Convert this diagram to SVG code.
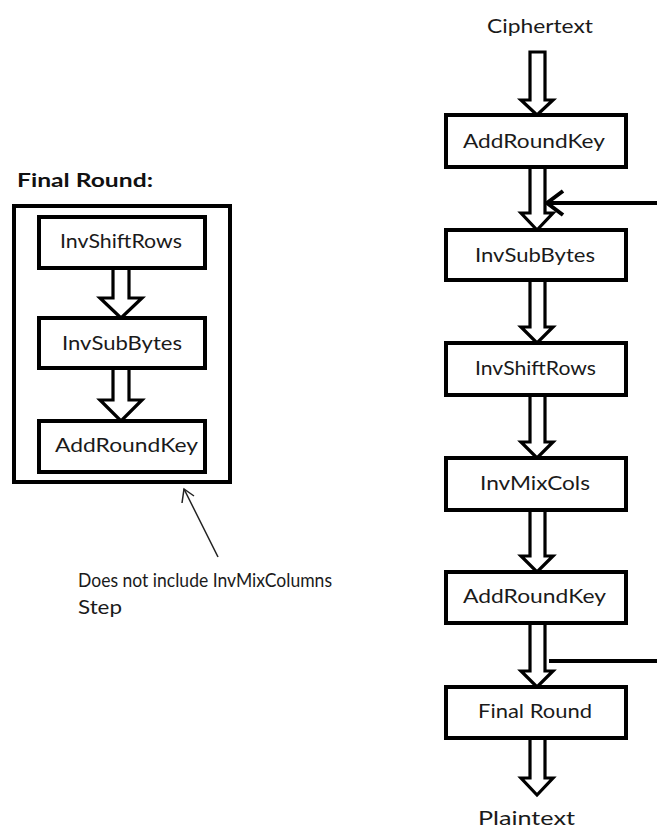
<svg xmlns="http://www.w3.org/2000/svg" width="657" height="834" viewBox="0 0 657 834">
  <style>
    .box { fill: #fff; stroke: #000; stroke-width: 4; }
    .frame { fill: none; stroke: #000; stroke-width: 4; }
    .blk { fill: #fff; stroke: #000; stroke-width: 3.2; stroke-linejoin: miter; }
    .bar { fill: none; stroke: #000; stroke-width: 4; }
    .thin { fill: none; stroke: #222; stroke-width: 1.5; }
    .lbl { font-family: Lato, "Liberation Sans", sans-serif; font-size: 19px; fill: #1a1a1a; }
    .head { font-family: Lato, "Liberation Sans", sans-serif; font-size: 18px; font-weight: bold; fill: #111; }
  </style>
  <rect width="657" height="834" fill="#fff"/>

  <!-- connectors: hollow block arrows and key lines -->
  <g id="connectors">
    <!-- main column -->
    <path class="blk" d="M530,52 H545 V100 H553 L537,115 L521,100 H530 Z"/>
    <path class="blk" d="M530,167 V213 H521 L537,230 L553,213 H545 V167"/>
    <path class="blk" d="M530,280 V327 H521 L537,343 L553,327 H545 V280"/>
    <path class="blk" d="M530,395 V442 H521 L537,458 L553,442 H545 V395"/>
    <path class="blk" d="M530,510 V556 H521 L537,572 L553,556 H545 V510"/>
    <path class="blk" d="M530,623 V671 H521 L537,687 L553,671 H545 V623"/>
    <path class="blk" d="M530,738 V778 H521 L537,795 L553,778 H545 V738"/>
    <!-- round key inputs -->
    <line class="bar" x1="549" y1="203" x2="657" y2="203"/>
    <polyline class="bar" points="563,191 547,203 563,215"/>
    <line class="bar" x1="549" y1="661" x2="657" y2="661"/>
    <!-- final round detail -->
    <path class="blk" d="M113,268 V298 H100 L121,318 L142,298 H129 V268"/>
    <path class="blk" d="M113,368 V400 H100 L121,421 L142,400 H129 V368"/>
    <!-- note pointer -->
    <line class="thin" x1="218" y1="557" x2="184" y2="489"/>
    <polyline class="thin" points="182,503 184,489 194,496"/>
  </g>

  <g id="ciphertext">
    <text class="lbl" x="487" y="33" textLength="106" lengthAdjust="spacingAndGlyphs">Ciphertext</text>
  </g>
  <g id="addroundkey-1">
    <rect class="box" x="446" y="115" width="180" height="52"/>
    <text class="lbl" x="463" y="148" textLength="142" lengthAdjust="spacingAndGlyphs">AddRoundKey</text>
  </g>
  <g id="invsubbytes">
    <rect class="box" x="446" y="230" width="180" height="50"/>
    <text class="lbl" x="475" y="262" textLength="120" lengthAdjust="spacingAndGlyphs">InvSubBytes</text>
  </g>
  <g id="invshiftrows">
    <rect class="box" x="446" y="343" width="180" height="52"/>
    <text class="lbl" x="475" y="375" textLength="121" lengthAdjust="spacingAndGlyphs">InvShiftRows</text>
  </g>
  <g id="invmixcols">
    <rect class="box" x="446" y="458" width="180" height="52"/>
    <text class="lbl" x="480" y="490" textLength="110" lengthAdjust="spacingAndGlyphs">InvMixCols</text>
  </g>
  <g id="addroundkey-2">
    <rect class="box" x="446" y="572" width="180" height="51"/>
    <text class="lbl" x="463" y="603" textLength="143" lengthAdjust="spacingAndGlyphs">AddRoundKey</text>
  </g>
  <g id="final-round">
    <rect class="box" x="446" y="687" width="180" height="51"/>
    <text class="lbl" x="478" y="718" textLength="114" lengthAdjust="spacingAndGlyphs">Final Round</text>
  </g>
  <g id="plaintext">
    <text class="lbl" x="478" y="825" textLength="97" lengthAdjust="spacingAndGlyphs">Plaintext</text>
  </g>

  <!-- expanded final round -->
  <g id="final-round-detail">
    <text class="head" x="17" y="187" textLength="136" lengthAdjust="spacingAndGlyphs">Final Round:</text>
    <rect class="frame" x="14" y="206" width="216" height="276"/>
  </g>
  <g id="fr-invshiftrows">
    <rect class="box" x="39" y="217" width="166" height="51"/>
    <text class="lbl" x="60" y="248" textLength="122" lengthAdjust="spacingAndGlyphs">InvShiftRows</text>
  </g>
  <g id="fr-invsubbytes">
    <rect class="box" x="39" y="318" width="166" height="50"/>
    <text class="lbl" x="62" y="350" textLength="120" lengthAdjust="spacingAndGlyphs">InvSubBytes</text>
  </g>
  <g id="fr-addroundkey">
    <rect class="box" x="39" y="421" width="166" height="51"/>
    <text class="lbl" x="55" y="452" textLength="143" lengthAdjust="spacingAndGlyphs">AddRoundKey</text>
  </g>

  <g id="note">
    <text class="lbl" x="78" y="587" textLength="254" lengthAdjust="spacingAndGlyphs">Does not include InvMixColumns</text>
    <text class="lbl" x="78" y="614" textLength="44" lengthAdjust="spacingAndGlyphs">Step</text>
  </g>
</svg>
